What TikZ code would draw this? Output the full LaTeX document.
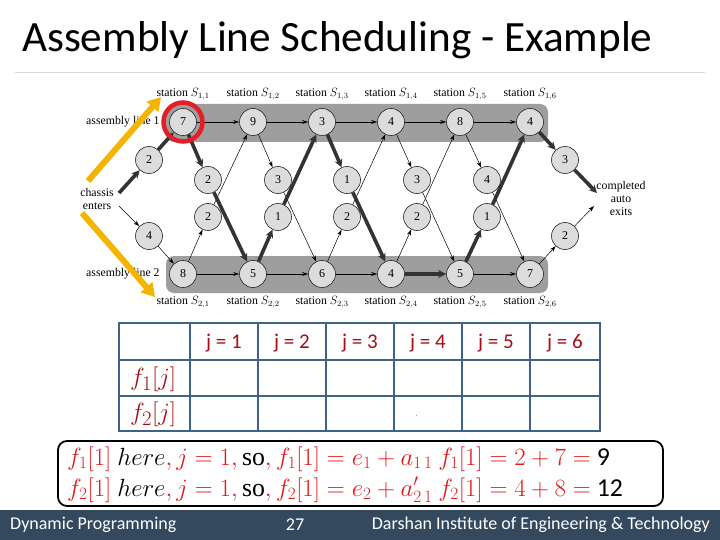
\documentclass[tikz,border=0pt]{standalone}
\usepackage{fontspec}
\setmainfont{Carlito}
\newfontfamily\dserif{Liberation Serif}
\usetikzlibrary{arrows.meta}
\definecolor{bandgray}{HTML}{9E9E9E}
\definecolor{nodegray}{HTML}{DCDCDC}
\definecolor{thickc}{HTML}{333333}
\definecolor{yel}{HTML}{F5B400}
\definecolor{redc}{HTML}{E41E26}
\definecolor{tblue}{HTML}{3F6289}
\definecolor{dred}{HTML}{A50F15}
\definecolor{fred}{HTML}{E3191C}
\definecolor{foot}{HTML}{35495E}
\tikzset{
  st/.style={circle, draw=black!85, fill=nodegray, minimum size=27pt, inner sep=0pt, line width=0.6pt, font=\dserif\fontsize{12}{13}\selectfont},
  lbl/.style={font=\dserif\fontsize{11.8}{13}\selectfont, inner sep=0pt},
  thin/.style={line width=0.5pt, -{Stealth[length=6pt,width=4pt]}},
  thick/.style={line width=3.6pt, draw=thickc, -{Stealth[length=8pt,width=8pt]}},
  yarrow/.style={draw=yel, line width=6pt, -{Triangle[length=13pt,width=15pt]}},
  hdr/.style={font=\fontsize{21}{23}\selectfont, text=dred},
  rowl/.style={font=\fontsize{30}{32}\selectfont, text=dred},
  foottxt/.style={font=\fontsize{18}{20}\selectfont, text=white},
  ftxt/.style={anchor=base west, inner sep=0pt, font=\fontsize{25.8}{28}\selectfont},
}
\begin{document}
\begin{tikzpicture}[x=1pt,y=-1pt]
\useasboundingbox (0,0) rectangle (720,540);
\fill[white] (0,0) rectangle (720,540);
% title
\node[anchor=base west, inner sep=0pt, font=\fontsize{43.2}{46}\selectfont] (title) at (22,52) {Assembly Line Scheduling - Example};
\draw[black!15, line width=0.8pt] (15,72) -- (705,72);
% bands
\fill[bandgray, rounded corners=8pt] (166,104) rectangle (548,142);
\fill[bandgray, rounded corners=8pt] (166,256) rectangle (548,293);
% station nodes
\foreach \n/\x/\v in {1/183/7,2/253/9,3/322/3,4/391/4,5/460/8,6/530/4}
  \node[st] (a\n) at (\x,122) {\v};
\foreach \n/\x/\v in {1/183/8,2/253/5,3/322/6,4/391/4,5/460/5,6/530/7}
  \node[st] (b\n) at (\x,274) {\v};
\foreach \n/\x/\v in {1/208/2,2/278/3,3/347/1,4/417/3,5/487/4}
  \node[st] (tu\n) at (\x,180) {\v};
\foreach \n/\x/\v in {1/208/2,2/278/1,3/347/2,4/417/2,5/487/1}
  \node[st] (td\n) at (\x,217) {\v};
\node[st] (e1) at (149,160) {2};
\node[st] (e2) at (149,236) {4};
\node[st] (x1) at (565,160) {3};
\node[st] (x2) at (565,236) {2};
% labels
\foreach \n/\x in {1/183,2/253,3/322,4/391,5/460,6/530}{
  \node[lbl] (sa\n) at (\x,94) {station $S_{1,\n}$};
  \node[lbl] (sb\n) at (\x,302) {station $S_{2,\n}$};
}
\node[lbl, anchor=west] (l1) at (86,122) {assembly line 1};
\node[lbl, anchor=west] (l2) at (86,274) {assembly line 2};
\node[lbl, align=center] (in) at (97,199) {chassis\\enters};
\node[lbl, align=center] (out) at (621,198) {completed\\auto\\exits};
\coordinate (inA) at (119,193);
\coordinate (inB) at (119,206);
\coordinate (outA) at (597,193);
\coordinate (outB) at (594,206);
% thin edges
\draw[thin] (a1) -- (a2);
\draw[thin] (a2) -- (a3);
\draw[thin] (a3) -- (a4);
\draw[thin] (a4) -- (a5);
\draw[thin] (a5) -- (a6);
\draw[thin] (b1) -- (b2);
\draw[thin] (b2) -- (b3);
\draw[thin] (b3) -- (b4);
\draw[thin] (b5) -- (b6);
\draw[thin] (inB) -- (e2);
\draw[thin] (e2) -- (b1);
\draw[thin] (b6) -- (x2);
\draw[thin] (x2) -- (outB);
\draw[thin] (b1) -- (td1); \draw[thin] (td1) -- (a2);
\draw[thin] (a2) -- (tu2); \draw[thin] (tu2) -- (b3);
\draw[thin] (b3) -- (td3); \draw[thin] (td3) -- (a4);
\draw[thin] (a4) -- (tu4); \draw[thin] (tu4) -- (b5);
\draw[thin] (b4) -- (td4); \draw[thin] (td4) -- (a5);
\draw[thin] (a5) -- (tu5); \draw[thin] (tu5) -- (b6);
% thick path
\draw[thick] (inA) -- (e1);
\draw[thick] (e1) -- (a1);
\draw[thick] (a1) -- (tu1);
\draw[thick] (tu1) -- (b2);
\draw[thick] (b2) -- (td2);
\draw[thick] (td2) -- (a3);
\draw[thick] (a3) -- (tu3);
\draw[thick] (tu3) -- (b4);
\draw[thick] (b4) -- (b5);
\draw[thick] (b5) -- (td5);
\draw[thick] (td5) -- (a6);
\draw[thick] (a6) -- (x1);
\draw[thick] (x1) -- (outA);
% highlights
\draw[redc, line width=4.5pt] (a1) circle (19.5pt);
\coordinate (ya1) at (88,181);
\coordinate (ya2) at (161,97);
\coordinate (yb1) at (82,213);
\coordinate (yb2) at (155,297);
\draw[yarrow] (ya1) -- (ya2);
\draw[yarrow] (yb1) -- (yb2);
% table
\draw[tblue, line width=1.8pt] (119,323) rectangle (600,431);
\foreach \x in {190,258,326,394,462,530} \draw[tblue, line width=1.8pt] (\x,323) -- (\x,431);
\foreach \y in {360,396} \draw[tblue, line width=1.8pt] (119,\y) -- (600,\y);
\foreach \n/\x in {1/224,2/292,3/360,4/428,5/496,6/565}
  \node[hdr] (h\n) at (\x,343) {j = \n};
\node[rowl] (r1) at (153,379) {$f_1[j]$};
\node[rowl] (r2) at (153,414) {$f_2[j]$};
\node[font=\fontsize{6}{6}\selectfont, inner sep=0pt] (dot) at (417,416) {.};
% formula box
\draw[line width=1.8pt, rounded corners=9pt] (58,441) rectangle (663,506);
\node[ftxt] (f1) at (67,465)
  {$\color{fred} f_1[1]\ {\color{black}here}, j=1, {\color{black}\hbox{\dserif so}}, f_1[1]=e_1+\smash{a_{1\,1}}\ f_1[1]=2+7=$ 9};
\node[ftxt] (f2) at (67,496)
  {$\color{fred} f_2[1]\ {\color{black}here}, j=1, {\color{black}\hbox{\dserif so}}, f_2[1]=e_2+\smash{a_{2\,1}^{\prime}}\ f_2[1]=4+8=$ 12};
% footer
\fill[foot] (0,510) rectangle (720,540);
\node[foottxt, anchor=west, inner sep=0pt] (fl) at (10,525) {Dynamic Programming};
\node[foottxt, inner sep=0pt] (fc) at (295,525) {27};
\node[foottxt, anchor=east, inner sep=0pt] (fr) at (710,525) {Darshan Institute of Engineering \& Technology};
\end{tikzpicture}
\end{document}
